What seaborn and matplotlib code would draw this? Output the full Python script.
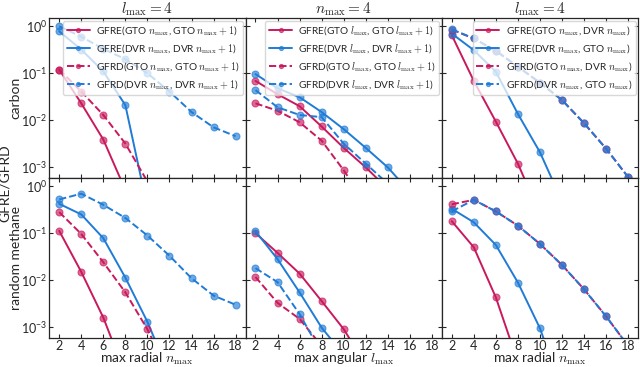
import numpy as np
import pandas as pd
import matplotlib
matplotlib.use('Agg')
import matplotlib.pyplot as plt
import matplotlib.ticker as mticker
from matplotlib.colors import to_rgba
import seaborn as sns

# x grids
n_vals = [2, 4, 6, 8, 10, 12, 14, 16, 18]

# carbon, radial (l_max = 4)
carbon_rad_gfre_gto = [0.12, 0.023, 0.0039, 3.3e-4]
carbon_rad_gfre_dvr = [0.78, 0.32, 0.11, 0.021, 1.4e-4]
carbon_rad_gfrd_gto = [0.12, 0.041, 0.013, 0.0032, 5e-4]
carbon_rad_gfrd_dvr = [1.0, 0.6, 0.33, 0.2, 0.10, 0.041, 0.015, 0.0071, 0.0046]

# carbon, angular (n_max = 4)
carbon_ang_gfre_gto = [0.069, 0.036, 0.02, 0.0074, 0.0026, 0.001, 3.5e-4]
carbon_ang_gfre_dvr = [0.096, 0.048, 0.031, 0.015, 0.0065, 0.0026, 0.001, 3e-4]
carbon_ang_gfrd_gto = [0.023, 0.016, 0.0091, 0.0037, 8.7e-4, 1.7e-4]
carbon_ang_gfrd_dvr = [0.044, 0.019, 0.013, 0.0117, 0.0032, 0.0012, 4.5e-4]

# carbon, GTO vs DVR (l_max = 4)
carbon_x_gfre_gto_dvr = [0.65, 0.069, 0.0094, 0.0012, 1e-4]
carbon_x_gfre_dvr_gto = [0.7, 0.31, 0.108, 0.0137, 0.0021, 1.9e-4]
carbon_x_gfrd_gto_dvr = [0.85, 0.55, 0.30, 0.138, 0.063, 0.027, 0.0087, 0.0025, 6.2e-4]
carbon_x_gfrd_dvr_gto = [0.86, 0.55, 0.30, 0.138, 0.063, 0.027, 0.0087, 0.0025, 6.2e-4]

# random methane, radial
meth_rad_gfre_gto = [0.112, 0.015, 0.0016, 1e-4]
meth_rad_gfre_dvr = [0.42, 0.25, 0.078, 0.0113, 0.0013, 1e-4]
meth_rad_gfrd_gto = [0.28, 0.096, 0.024, 0.0055, 9e-4, 1e-4]
meth_rad_gfrd_dvr = [0.52, 0.69, 0.40, 0.21, 0.089, 0.033, 0.011, 0.0047, 0.0030]

# random methane, angular
meth_ang_gfre_gto = [0.1, 0.038, 0.0138, 0.0036, 9.1e-4, 1.6e-4]
meth_ang_gfre_dvr = [0.11, 0.028, 0.0055, 9.8e-4, 2.6e-4]
meth_ang_gfrd_gto = [0.0117, 0.0033, 0.0015, 4e-4]
meth_ang_gfrd_dvr = [0.018, 0.0091, 0.0019, 2.8e-4]

# random methane, GTO vs DVR
meth_x_gfre_gto_dvr = [0.18, 0.05, 0.0043, 1.8e-4]
meth_x_gfre_dvr_gto = [0.33, 0.17, 0.056, 0.0089, 9.5e-4, 4.5e-5]
meth_x_gfrd_gto_dvr = [0.41, 0.51, 0.29, 0.144, 0.059, 0.021, 0.0064, 0.0017, 4e-4]
meth_x_gfrd_dvr_gto = [0.29, 0.51, 0.29, 0.144, 0.059, 0.021, 0.0064, 0.0017, 4e-4]

labels_rad = [r'GFRE(GTO $n_{\mathrm{max}}$, GTO $n_{\mathrm{max}}+1$)',
              r'GFRE(DVR $n_{\mathrm{max}}$, DVR $n_{\mathrm{max}}+1$)',
              r'GFRD(GTO $n_{\mathrm{max}}$, GTO $n_{\mathrm{max}}+1$)',
              r'GFRD(DVR $n_{\mathrm{max}}$, DVR $n_{\mathrm{max}}+1$)']
labels_ang = [r'GFRE(GTO $l_{\mathrm{max}}$, GTO $l_{\mathrm{max}}+1$)',
              r'GFRE(DVR $l_{\mathrm{max}}$, DVR $l_{\mathrm{max}}+1$)',
              r'GFRD(GTO $l_{\mathrm{max}}$, GTO $l_{\mathrm{max}}+1$)',
              r'GFRD(DVR $l_{\mathrm{max}}$, DVR $l_{\mathrm{max}}+1$)']
labels_x = [r'GFRE(GTO $n_{\mathrm{max}}$, DVR $n_{\mathrm{max}}$)',
            r'GFRE(DVR $n_{\mathrm{max}}$, GTO $n_{\mathrm{max}}$)',
            r'GFRD(GTO $n_{\mathrm{max}}$, DVR $n_{\mathrm{max}}$)',
            r'GFRD(DVR $n_{\mathrm{max}}$, GTO $n_{\mathrm{max}}$)']

titles = [r'$l_{\mathrm{max}}=4$', r'$n_{\mathrm{max}}=4$', r'$l_{\mathrm{max}}=4$']
xlabels = [r'max radial $n_{\mathrm{max}}$', r'max angular $l_{\mathrm{max}}$',
           r'max radial $n_{\mathrm{max}}$']
rows = ['carbon', 'random methane']

panels = [
    [[carbon_rad_gfre_gto, carbon_rad_gfre_dvr, carbon_rad_gfrd_gto, carbon_rad_gfrd_dvr],
     [carbon_ang_gfre_gto, carbon_ang_gfre_dvr, carbon_ang_gfrd_gto, carbon_ang_gfrd_dvr],
     [carbon_x_gfre_gto_dvr, carbon_x_gfre_dvr_gto, carbon_x_gfrd_gto_dvr, carbon_x_gfrd_dvr_gto]],
    [[meth_rad_gfre_gto, meth_rad_gfre_dvr, meth_rad_gfrd_gto, meth_rad_gfrd_dvr],
     [meth_ang_gfre_gto, meth_ang_gfre_dvr, meth_ang_gfrd_gto, meth_ang_gfrd_dvr],
     [meth_x_gfre_gto_dvr, meth_x_gfre_dvr_gto, meth_x_gfrd_gto_dvr, meth_x_gfrd_dvr_gto]],
]
legend_labels = [labels_rad, labels_ang, labels_x]

red = '#c9195d'
blue = '#1f7bd6'
colors = [red, blue, red, blue]
styles = ['-', '-', '--', '--']

sns.set_style('ticks')
plt.rcParams['font.family'] = ['Lato', 'DejaVu Sans']
plt.rcParams['mathtext.fontset'] = 'cm'
plt.rcParams['axes.unicode_minus'] = False

fig, axes = plt.subplots(2, 3, figsize=(6.4, 3.67), dpi=100, sharex=True, sharey=True)
fig.subplots_adjust(left=0.077, right=0.997, top=0.951, bottom=0.08, wspace=0, hspace=0)

for r in range(2):
    for c in range(3):
        ax = axes[r, c]
        for k, vals in enumerate(panels[r][c]):
            df = pd.DataFrame({'x': n_vals[:len(vals)], 'y': vals})
            sns.lineplot(data=df, x='x', y='y', ax=ax, color=colors[k], linestyle=styles[k],
                         lw=1.4, marker='o', markersize=5,
                         markerfacecolor=to_rgba(colors[k], 0.65),
                         markeredgecolor=to_rgba(colors[k], 0.65), markeredgewidth=0.8,
                         label=legend_labels[c][k] if r == 0 else None,
                         errorbar=None, sort=False, legend=r == 0)
        ax.set_yscale('log')
        ax.set_ylim(6e-4, 1.5)
        ax.set_xlim(1.1, 18.9)
        ax.set_xticks(n_vals)
        ax.yaxis.set_major_locator(mticker.LogLocator(base=10, numticks=10))
        ax.yaxis.set_minor_locator(mticker.NullLocator())
        ax.tick_params(direction='in', top=True, right=True, labelsize=9, length=3, pad=1.5)
        ax.set_xlabel('')
        ax.set_ylabel('')
        for s in ax.spines.values():
            s.set_linewidth(0.9)
        if r == 0:
            ax.set_title(titles[c], fontsize=11, pad=2)
            ax.legend(loc='upper right', fontsize=7.3, framealpha=0.75, handlelength=2.3,
                      markerscale=0.6, borderpad=0.35, labelspacing=0.45, handletextpad=0.6,
                      borderaxespad=0.25, edgecolor='#cccccc')
        else:
            ax.set_xlabel(xlabels[c], fontsize=10, labelpad=-1)
    axes[r, 0].set_ylabel(rows[r], fontsize=10)
    axes[r, 0].yaxis.set_label_coords(-0.14, 0.5)

fig.text(0.008, 0.5, 'GFRE/GFRD', rotation=90, va='center', ha='center', fontsize=10)

fig.savefig('out.png', dpi=100)
